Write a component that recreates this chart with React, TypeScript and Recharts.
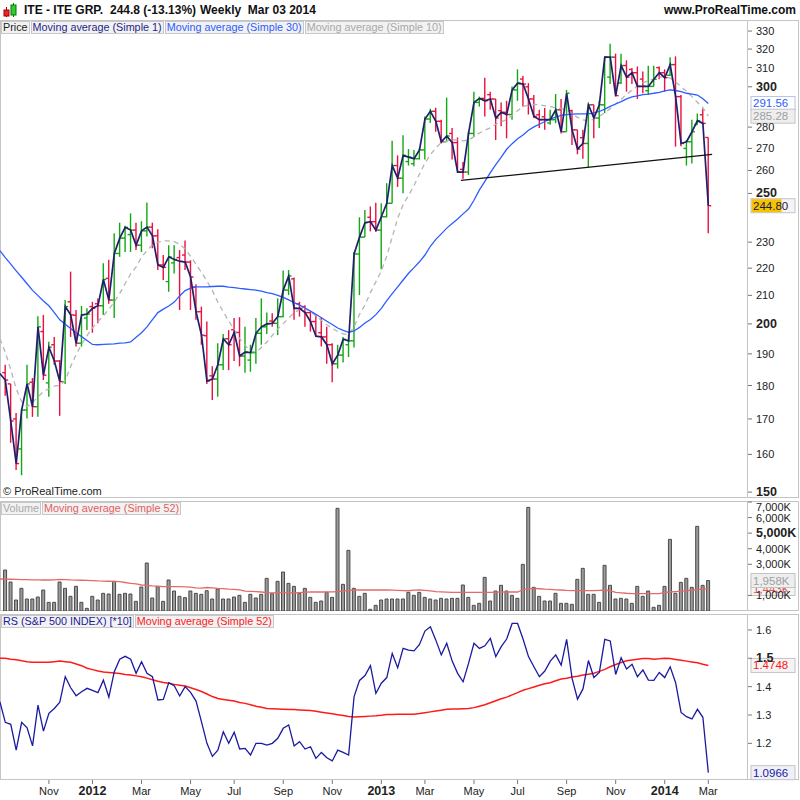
import React from "react";
import { ComposedChart, Bar, Line, XAxis, YAxis, ReferenceLine } from "recharts";

// weekly bars, Sep 12 2011 .. Mar 03 2014
const opens = [
  184, 180.5, 170, 161.5, 172.6, 181, 173.6, 197.4, 180.8, 193,
  187.7, 181.2, 207.7, 203, 193.5, 202, 206, 207, 206.3, 216.2,
  208.3, 225.6, 231.6, 233, 234.8, 228.8, 234.5, 236, 232.5, 221.2,
  215, 222, 224, 225, 222.3, 213, 204.2, 196, 183, 182,
  186.5, 195, 198, 197.1, 189.3, 188, 190.4, 196.8, 199, 201,
  200.2, 202.5, 211.9, 216, 207, 206, 203.9, 200.8, 197, 195.6,
  193, 186.8, 189.6, 193, 194.3, 225.4, 232, 240, 238.2, 234.8,
  240.2, 245.8, 262.2, 256.6, 264, 263, 265.3, 269.3, 283.9, 287.7,
  282.8, 273.1, 277, 272.7, 260.5, 259.3, 277, 292.1, 294.1, 296,
  293.8, 288, 287.2, 286.1, 298.4, 304, 300, 293.8, 286, 285,
  282, 283.6, 288.4, 277.8, 288, 278.7, 275, 272.3, 290.9, 284.4,
  290.9, 305, 315.6, 302, 311.1, 309, 307.3, 304, 298, 300.2,
  310, 307.3, 306, 311.6, 295, 270, 273.1, 281.2, 286, 275.1,
];
const highs = [
  186.5, 180.5, 171.7, 173, 186.5, 182.3, 202.6, 203.1, 194, 195.6,
  188, 208.3, 218.7, 204.8, 206.2, 205.4, 207.7, 208.9, 221.9, 223.2,
  233.5, 237.8, 236.5, 241.6, 237.8, 238.4, 246.1, 237.8, 235.1, 225,
  228.8, 228.8, 226.9, 230.7, 223, 214, 206, 200.8, 186, 193.5,
  196.6, 197.9, 202, 202.3, 199, 193, 202, 208.9, 203.9, 203.7,
  208.9, 219.1, 219.3, 216.5, 207.7, 206.5, 204.3, 203.1, 202.3, 199,
  193.5, 193, 195.6, 196.2, 226.2, 240, 243, 244.5, 246, 245.8,
  254.4, 273.5, 266.8, 276.2, 269.7, 269.3, 270.1, 285.2, 288.9, 289.4,
  283.6, 294.5, 279.6, 275.1, 263.8, 277.8, 297.5, 295, 304.7, 297.5,
  293.8, 292.1, 292.9, 300.2, 309.1, 305.6, 301.9, 295.8, 288.4, 289.3,
  288.4, 296.3, 293.8, 298.4, 288.4, 278.7, 278.7, 291.4, 290.9, 292.9,
  316, 322.9, 317.5, 317.5, 313.9, 309.8, 310.6, 307.9, 311, 311,
  310.6, 309.1, 315.6, 316, 295.8, 273.9, 283.6, 286.6, 288.9, 275.1,
];
const lows = [
  176.9, 163.2, 155.8, 154.4, 170.1, 170.6, 170.6, 181.7, 176.6, 186.5,
  170.9, 180.5, 195.6, 192.4, 192.4, 197.9, 197, 200.2, 203.1, 207,
  202, 224.3, 226.2, 226.2, 226.9, 226.2, 232.2, 227.6, 219.3, 215.6,
  211.3, 218, 204.8, 219.3, 204.8, 201.4, 193, 180.5, 175.6, 176.6,
  184.8, 184.8, 187.7, 186, 184, 184.3, 186.8, 193, 196.6, 199,
  196.2, 202.3, 210.1, 201.4, 202.5, 199, 197.4, 195.6, 192.4, 186.8,
  181, 185.3, 187.2, 189, 192.1, 210.1, 232, 234.3, 234.1, 219.6,
  240, 245.8, 252.8, 250.1, 262.2, 261.9, 264.9, 264.9, 282, 277.8,
  272.3, 273.1, 264.9, 259.1, 256.3, 258, 275.3, 290, 285.2, 288.4,
  273.9, 280.4, 274.7, 283.6, 292.9, 290.1, 286.1, 284.4, 279.6, 278.7,
  281.2, 281.9, 277, 277.8, 271.6, 267.3, 265.3, 261.4, 274.7, 279.6,
  286.8, 301.4, 295, 301.4, 297.5, 301.4, 293.8, 296.7, 295.8, 300.2,
  303.9, 297.5, 305.6, 270.8, 271, 262.2, 263.1, 281.2, 281.2, 233.5,
];
const closes = [
  181.7, 169.4, 157.5, 172.6, 180.5, 173.6, 199, 183.2, 192.2, 187.7,
  181.2, 206, 203.1, 193.5, 203.1, 203.4, 205.4, 206.3, 215.8, 208.3,
  225.6, 231.6, 235.9, 234.8, 228.8, 234.5, 236, 232.5, 221.2, 220.3,
  224.3, 223.3, 222.6, 222.3, 216.7, 204.2, 196.2, 181.4, 182, 186.5,
  194.9, 193, 197.1, 189.3, 190.6, 190.4, 196.8, 199, 200, 200.2,
  202.5, 211.9, 217.1, 205.4, 205.4, 203.9, 200.8, 195.8, 195.6, 193,
  186.8, 189.6, 194.8, 194.3, 225.4, 232, 237.8, 238.2, 234.8, 240.2,
  245.8, 262.2, 256.6, 266.8, 266, 265.3, 269.3, 283.9, 287.7, 282.8,
  273.1, 275.8, 272.7, 259.3, 259.3, 277, 292.1, 294.1, 292.9, 293.8,
  284.4, 287.2, 286.1, 298.4, 301.9, 301.4, 293.8, 285.2, 283.6, 283.6,
  283.6, 288.4, 277.8, 296.7, 278.7, 269.7, 272.3, 290.9, 284.4, 290.9,
  315.6, 315.6, 295.5, 311.1, 305, 307.3, 300.2, 300.2, 300.2, 303.9,
  307.3, 304.7, 311.6, 295, 272.3, 273.1, 277.8, 283.1, 281.8, 244.8,
];
const ma30 = [
  224.0, 221.5, 219.0, 216.6, 214.2, 211.8, 209.9, 208.0, 206.3, 203.9,
  201.4, 199.9, 198.4, 196.9, 195.7, 194.4, 193.1, 193.0, 193.1, 193.2,
  193.3, 193.5, 193.6, 193.9, 195.5, 197.0, 199.0, 201.5, 203.9, 205.1,
  206.2, 207.6, 209.8, 211.7, 212.6, 213.1, 213.1, 213.1, 213.2, 213.3,
  213.3, 213.0, 212.8, 212.5, 212.3, 212.1, 211.9, 211.5, 211.0, 210.6,
  210.0, 209.3, 208.4, 207.4, 206.5, 205.5, 204.4, 203.3, 202.1, 200.9,
  199.8, 198.6, 197.8, 197.1, 197.6, 198.8, 200.3, 201.5, 203.2, 205.4,
  208.1, 210.6, 213.1, 215.6, 218.1, 220.2, 222.4, 225.0, 228.4, 231.1,
  233.3, 235.6, 237.5, 239.3, 241.4, 243.4, 247.1, 251.5, 255.2, 259.0,
  262.6, 266.0, 269.6, 272.2, 274.5, 276.3, 278.5, 280.1, 281.4, 282.7,
  283.9, 284.8, 285.7, 286.1, 286.3, 286.4, 286.4, 286.4, 286.9, 287.6,
  288.8, 290.1, 291.3, 292.5, 293.9, 294.9, 295.4, 296.0, 296.3, 296.7,
  297.2, 297.9, 298.4, 298.1, 297.5, 296.7, 296.3, 295.8, 293.9, 291.56,
];
const ma10 = [
  190.5, 185.0, 179.0, 175.1, 173.6, 174.9, 176.5, 178.2, 179.0, 179.8,
  180.0, 181.5, 186.0, 189.8, 193.1, 196.0, 198.7, 200.8, 202.8, 205.1,
  207.6, 210.7, 214.3, 217.8, 220.5, 224.2, 226.7, 229.0, 229.9, 230.5,
  230.5, 230.2, 229.2, 227.3, 224.5, 221.5, 218.4, 215.2, 211.7, 207.6,
  204.2, 201.0, 198.0, 195.0, 192.8, 190.9, 190.6, 192.1, 193.9, 196.1,
  198.3, 200.1, 202.0, 203.9, 205.0, 205.4, 204.3, 202.7, 201.2, 199.7,
  198.5, 197.4, 196.6, 196.4, 199.0, 203.3, 206.6, 211.0, 214.9, 219.0,
  224.7, 232.0, 239.6, 245.3, 249.2, 253.4, 258.4, 263.3, 267.1, 270.2,
  272.8, 273.4, 274.0, 273.9, 273.5, 273.8, 275.5, 277.2, 278.5, 279.7,
  281.4, 282.6, 283.6, 285.8, 288.0, 290.0, 290.8, 291.1, 291.0, 290.4,
  290.0, 289.4, 289.0, 288.4, 286.5, 284.7, 283.5, 283.0, 283.9, 285.2,
  287.0, 289.0, 291.4, 293.7, 296.1, 298.3, 300.5, 302.0, 303.2, 304.2,
  304.9, 305.4, 304.5, 302.4, 300.1, 297.7, 295.0, 292.2, 289.5, 285.28,
];
// volume in thousands
const volumes = [
  2632, 1862, 706, 1455, 770, 770, 899, 1348, 556, 556,
  1862, 1455, 942, 1584, 556, 171, 942, 706, 1134, 1091,
  1905, 1070, 1134, 1091, 621, 1541, 3082, 835, 1562, 621,
  1990, 1284, 942, 856, 1284, 1134, 1070, 1305, 770, 1412,
  770, 770, 899, 1006, 556, 1070, 835, 1070, 2097, 1113,
  1905, 2504, 1776, 1584, 1134, 1455, 877, 556, 642, 1198,
  877, 6591, 1712, 3895, 1455, 942, 1134, 107, 364, 706,
  770, 770, 770, 770, 1198, 1006, 1198, 877, 770, 706,
  813, 770, 813, 813, 1669, 877, 364, 492, 2161, 642,
  1284, 1648, 1284, 1006, 813, 2996, 6655, 1519, 942, 642,
  642, 1134, 492, 492, 428, 2033, 2739, 1070, 1070, 556,
  2932, 1648, 770, 813, 770, 492, 1584, 942, 1284, 235,
  364, 1584, 4601, 1134, 1840, 2097, 1519, 5436, 1648, 1958,
];
const volMa52 = [
  2050, 2040, 2030, 2020, 2010, 2000, 1995, 1990, 1990, 2000,
  2030, 2020, 1995, 1985, 1975, 1965, 1950, 1930, 1920, 1910,
  1903, 1885, 1830, 1772, 1740, 1670, 1650, 1610, 1590, 1565,
  1562, 1562, 1562, 1545, 1530, 1490, 1470, 1510, 1490, 1455,
  1440, 1410, 1390, 1350, 1280, 1260, 1240, 1220, 1180, 1160,
  1175, 1195, 1175, 1156, 1180, 1210, 1220, 1220, 1220, 1220,
  1222, 1250, 1284, 1330, 1348, 1348, 1348, 1348, 1348, 1348,
  1348, 1340, 1330, 1305, 1300, 1340, 1348, 1320, 1290, 1245,
  1230, 1215, 1200, 1198, 1198, 1198, 1198, 1198, 1198, 1198,
  1210, 1218, 1220, 1220, 1220, 1380, 1420, 1455, 1430, 1400,
  1390, 1360, 1348, 1320, 1305, 1305, 1305, 1305, 1310, 1330,
  1348, 1300, 1198, 1170, 1140, 1120, 1113, 1113, 1113, 1113,
  1113, 1200, 1220, 1250, 1270, 1300, 1340, 1380, 1400, 1443,
];
const rs = [
  1.274, 1.267, 1.176, 1.274, 1.255, 1.191, 1.335, 1.243, 1.306, 1.323,
  1.345, 1.435, 1.396, 1.368, 1.382, 1.394, 1.387, 1.379, 1.423, 1.363,
  1.453, 1.497, 1.507, 1.497, 1.447, 1.488, 1.447, 1.435, 1.353, 1.355,
  1.414, 1.403, 1.367, 1.400, 1.380, 1.349, 1.276, 1.200, 1.154, 1.176,
  1.241, 1.200, 1.239, 1.180, 1.182, 1.159, 1.200, 1.200, 1.194, 1.200,
  1.218, 1.253, 1.265, 1.191, 1.206, 1.180, 1.188, 1.147, 1.168, 1.149,
  1.138, 1.176, 1.168, 1.159, 1.365, 1.422, 1.439, 1.474, 1.376, 1.412,
  1.432, 1.517, 1.467, 1.535, 1.529, 1.526, 1.549, 1.596, 1.611, 1.564,
  1.512, 1.553, 1.490, 1.447, 1.417, 1.482, 1.553, 1.535, 1.544, 1.570,
  1.506, 1.541, 1.568, 1.623, 1.623, 1.568, 1.506, 1.470, 1.435, 1.455,
  1.490, 1.512, 1.476, 1.567, 1.429, 1.356, 1.392, 1.492, 1.432, 1.450,
  1.567, 1.561, 1.443, 1.502, 1.462, 1.479, 1.435, 1.459, 1.423, 1.422,
  1.450, 1.432, 1.470, 1.414, 1.309, 1.294, 1.286, 1.320, 1.292, 1.0966,
];
const rsMa52 = [
  1.500, 1.497, 1.495, 1.491, 1.488, 1.486, 1.486, 1.486, 1.486, 1.488,
  1.490, 1.488, 1.486, 1.480, 1.474, 1.465, 1.460, 1.455, 1.452, 1.450,
  1.448, 1.446, 1.443, 1.441, 1.438, 1.435, 1.430, 1.424, 1.419, 1.415,
  1.412, 1.408, 1.405, 1.402, 1.396, 1.390, 1.383, 1.374, 1.365, 1.358,
  1.355, 1.352, 1.349, 1.344, 1.341, 1.336, 1.331, 1.327, 1.323, 1.322,
  1.321, 1.320, 1.319, 1.319, 1.318, 1.317, 1.316, 1.313, 1.310, 1.307,
  1.304, 1.301, 1.298, 1.295, 1.293, 1.294, 1.295, 1.296, 1.297, 1.299,
  1.302, 1.302, 1.303, 1.303, 1.303, 1.303, 1.305, 1.308, 1.311, 1.314,
  1.317, 1.320, 1.321, 1.321, 1.322, 1.323, 1.326, 1.331, 1.336, 1.343,
  1.350, 1.357, 1.363, 1.371, 1.379, 1.387, 1.393, 1.399, 1.405, 1.410,
  1.414, 1.421, 1.427, 1.430, 1.434, 1.437, 1.441, 1.444, 1.447, 1.454,
  1.461, 1.470, 1.478, 1.485, 1.491, 1.494, 1.497, 1.499, 1.499, 1.497,
  1.498, 1.500, 1.499, 1.496, 1.493, 1.490, 1.487, 1.484, 1.479, 1.4748,
];

// the week before the first full bar (Sep 05 2011), only its line values show at the left edge
const leadWeek = { close: 183.7, ma30: 226.7, ma10: 195.0, volMa: 2054, rs: 1.347, rsMa: 1.5 };

// x-axis: week index of first bar of each labelled month
const tickIdx = [8, 16, 25, 34, 42, 51, 60, 69, 77, 86, 94, 103, 112, 121, 129];
const tickText = ["Nov", "2012", "Mar", "May", "Jul", "Sep", "Nov", "2013", "Mar", "May", "Jul", "Sep", "Nov", "2014", "Mar"];

// support line drawn on the price panel
const trendIdx = [83.6, 129.7];
const trendVal = [255.6, 267.3];

const priceTicks = [150, 160, 170, 180, 190, 200, 210, 220, 230, 250, 260, 270, 280, 300, 310, 320, 330];
const volTicks = [1000, 3000, 4000, 5000, 6000, 7000];
const rsTicks = [1.2, 1.3, 1.4, 1.5, 1.6];

const rows = [
  { i: -1, ...leadWeek },
  ...closes.map((c, i) => ({
    i,
    open: opens[i],
    high: highs[i],
    low: lows[i],
    close: c,
    hl: [lows[i], highs[i]],
    ma30: ma30[i],
    ma10: ma10[i],
    vol: volumes[i],
    volMa: volMa52[i],
    rs: rs[i],
    rsMa: rsMa52[i],
  })),
];
const trend = trendIdx.map((i, k) => ({ i, v: trendVal[k] }));

const X_DOMAIN: [number, number] = [-0.9725, 136.28];
const FONT = "'Liberation Sans', Arial, sans-serif";
const UP = "#12a812";
const DOWN = "#ea1040";
const FRAME = "#c4c4c4";

function OhlcShape(props: any) {
  const { x, y, width, height, payload } = props;
  if (x == null || y == null || !payload || payload.high == null) return null;
  const cx = x + width / 2;
  const top = Math.min(y, y + height);
  const bot = Math.max(y, y + height);
  const lh = Math.log(payload.high);
  const ll = Math.log(payload.low);
  const pos = (v: number) => top + ((bot - top) * (lh - Math.log(v))) / (lh - ll || 1);
  const color = payload.close >= payload.open ? UP : DOWN;
  return (
    <g stroke={color} strokeWidth={1.4}>
      <line x1={cx} x2={cx} y1={top} y2={bot} />
      <line x1={cx - 3} x2={cx} y1={pos(payload.open)} y2={pos(payload.open)} />
      <line x1={cx} x2={cx + 3} y1={pos(payload.close)} y2={pos(payload.close)} />
    </g>
  );
}

function ValueBox(props: any) {
  const { viewBox, text, color, bg, border, hi } = props;
  if (!viewBox) return null;
  const x = viewBox.x + viewBox.width + 3;
  const y = viewBox.y;
  return (
    <g fontFamily={FONT}>
      <rect x={x} y={y - 7} width={44} height={14} fill={bg} stroke={border} />
      {hi && <rect x={x + 0.5} y={y - 6.5} width={30} height={13} fill={hi} />}
      <text x={x + 2} y={y + 4} fontSize={11.5} fill={color}>
        {text}
      </text>
    </g>
  );
}

function PriceTick({ x, y, payload }: any) {
  const bold = [150, 200, 250, 300].includes(payload.value);
  return (
    <text x={x} y={y} dy={4} textAnchor="start" fontFamily={FONT} fontSize={bold ? 12.5 : 11} fontWeight={bold ? 700 : 400} fill="#222">
      {payload.value}
    </text>
  );
}

function VolTick({ x, y, payload }: any) {
  const v = payload.value;
  const bold = v === 5000;
  const label = `${Math.floor(v / 1000)},${String(v % 1000).padStart(3, "0")}K`;
  return (
    <text x={x} y={y} dy={v === 7000 ? 9 : 4} textAnchor="start" fontFamily={FONT} fontSize={bold ? 12.5 : 11} fontWeight={bold ? 700 : 400} fill="#222">
      {label}
    </text>
  );
}

function RsTick({ x, y, payload }: any) {
  const bold = payload.value === 1.5;
  return (
    <text x={x} y={y} dy={4} textAnchor="start" fontFamily={FONT} fontSize={bold ? 12.5 : 11} fontWeight={bold ? 700 : 400} fill="#222">
      {payload.value.toFixed(1)}
    </text>
  );
}

function DateTick({ x, y, payload }: any) {
  const k = tickIdx.indexOf(payload.value);
  const t = k >= 0 ? tickText[k] : "";
  const year = /^\d{4}$/.test(t);
  return (
    <text x={x} y={y} dy={9} textAnchor="middle" fontFamily={FONT} fontSize={year ? 12.5 : 11} fontWeight={year ? 700 : 400} fill="#222">
      {t}
    </text>
  );
}

function Legend({ items, top }: { items: { text: string; color: string }[]; top: number }) {
  return (
    <div style={{ position: "absolute", left: 1, top, display: "flex", gap: 1 }}>
      {items.map((it) => (
        <div
          key={it.text}
          style={{
            border: "1px solid #c8c8c8",
            background: "#f2f2f2",
            color: it.color,
            fontSize: 10.8,
            lineHeight: "11px",
            padding: "0 1px",
            whiteSpace: "nowrap",
          }}
        >
          {it.text}
        </div>
      ))}
    </div>
  );
}

function Frame({ top, height }: { top: number; height: number }) {
  return (
    <>
      <div style={{ position: "absolute", left: 0, top, width: 799, height, border: `1px solid ${FRAME}`, boxSizing: "border-box" }} />
      <div style={{ position: "absolute", left: 747, top, width: 1, height, background: FRAME }} />
    </>
  );
}

export default function App() {
  const line = { dot: false, activeDot: false, isAnimationActive: false, type: "linear" as const };
  return (
    <div style={{ position: "absolute", left: 0, top: 0, width: 800, height: 800, background: "#fff", fontFamily: FONT, overflow: "hidden" }}>
      <Frame top={20} height={478} />
      <Frame top={501} height={110} />
      <Frame top={614} height={166} />

      {/* price */}
      <div style={{ position: "absolute", left: 0, top: 0 }}>
        <ComposedChart width={800} height={500} data={rows} margin={{ top: 20, right: 0, bottom: 2, left: 0 }}>
          <XAxis type="number" dataKey="i" domain={X_DOMAIN} allowDataOverflow hide />
          <YAxis
            orientation="right"
            scale="log"
            domain={[148.5, 336.3]}
            allowDataOverflow
            ticks={priceTicks}
            interval={0}
            width={52}
            tickSize={4}
            tickMargin={4}
            axisLine={false}
            stroke="#777"
            tick={<PriceTick />}
          />
          <Line dataKey="ma10" stroke="#b4b4b4" strokeWidth={1.3} strokeDasharray="5 4" {...line} />
          <Line dataKey="ma30" stroke="#2d5cff" strokeWidth={1.3} {...line} />
          <Bar dataKey="hl" barSize={5} shape={<OhlcShape />} isAnimationActive={false} />
          <Line dataKey="close" stroke="#1f1f6c" strokeWidth={1.7} {...line} />
          <Line data={trend} dataKey="v" stroke="#111" strokeWidth={1.2} {...line} />
          <ReferenceLine y={291.56} stroke="none" label={<ValueBox text="291.56" color="#2d5cff" bg="#fff" border="#b8c4e8" />} />
          <ReferenceLine y={285.28} stroke="none" label={<ValueBox text="285.28" color="#a0a0a0" bg="#eeeeee" border="#c4c4c4" />} />
          <ReferenceLine y={244.8} stroke="none" label={<ValueBox text="244.80" color="#1a1a40" bg="#f4f4f4" border="#c4c4c4" hi="#f5c300" />} />
        </ComposedChart>
      </div>

      {/* volume */}
      <div style={{ position: "absolute", left: 0, top: 499 }}>
        <ComposedChart width={800} height={114} data={rows} margin={{ top: 3, right: 0, bottom: 2, left: 0 }}>
          <XAxis type="number" dataKey="i" domain={X_DOMAIN} allowDataOverflow hide />
          <YAxis
            orientation="right"
            domain={[0, 7000]}
            allowDataOverflow
            ticks={volTicks}
            interval={0}
            width={52}
            tickSize={4}
            tickMargin={4}
            axisLine={false}
            stroke="#777"
            tick={<VolTick />}
          />
          <Bar dataKey="vol" barSize={3} fill="#9c9c9c" stroke="#4a4a4a" strokeWidth={1} isAnimationActive={false} />
          <Line dataKey="volMa" stroke="#e46a6a" strokeWidth={1.3} {...line} />
          <ReferenceLine y={1443} stroke="none" label={<ValueBox text="1,443K" color="#e05050" bg="#f4f4f4" border="#c4c4c4" />} />
          <ReferenceLine y={1958} stroke="none" label={<ValueBox text="1,958K" color="#a0a0a0" bg="#eeeeee" border="#c4c4c4" />} />
        </ComposedChart>
      </div>

      {/* relative strength */}
      <div style={{ position: "absolute", left: 0, top: 612 }}>
        <ComposedChart width={800} height={188} data={rows} margin={{ top: 3, right: 0, bottom: 0, left: 0 }}>
          <XAxis
            type="number"
            dataKey="i"
            domain={X_DOMAIN}
            allowDataOverflow
            ticks={tickIdx}
            interval={0}
            height={20}
            tickSize={4}
            tickMargin={2}
            axisLine={false}
            stroke="#777"
            tick={<DateTick />}
          />
          <YAxis
            orientation="right"
            domain={[1.0707, 1.6527]}
            allowDataOverflow
            ticks={rsTicks}
            interval={0}
            width={52}
            tickSize={4}
            tickMargin={4}
            axisLine={false}
            stroke="#777"
            tick={<RsTick />}
          />
          <Line dataKey="rsMa" stroke="#ff1a1a" strokeWidth={1.5} {...line} />
          <Line dataKey="rs" stroke="#1a1aa0" strokeWidth={1.3} {...line} />
          <ReferenceLine y={1.4748} stroke="none" label={<ValueBox text="1.4748" color="#ff1a1a" bg="#f4f4f4" border="#c4c4c4" />} />
          <ReferenceLine y={1.0966} stroke="none" label={<ValueBox text="1.0966" color="#1a1aa0" bg="#f0f0f8" border="#c4c4c4" />} />
        </ComposedChart>
      </div>

      {/* header */}
      <svg style={{ position: "absolute", left: 2, top: 2 }} width={16} height={16}>
        <line x1={4.5} x2={4.5} y1={5} y2={15} stroke="#a00" />
        <rect x={2} y={8} width={5} height={6} fill="#e23" stroke="#a00" />
        <line x1={11.5} x2={11.5} y1={1} y2={15} stroke="#070" />
        <rect x={9} y={3} width={5} height={10} fill="#3c3" stroke="#070" />
      </svg>
      <div style={{ position: "absolute", top: 2, left: 0, width: 800, height: 16, fontSize: 12, fontWeight: 700, color: "#111", whiteSpace: "pre", lineHeight: "16px" }}>
        <span style={{ position: "absolute", left: 24 }}>ITE - ITE GRP.</span>
        <span style={{ position: "absolute", left: 110 }}>244.8 (-13.13%)</span>
        <span style={{ position: "absolute", left: 200 }}>Weekly  Mar 03 2014</span>
        <span style={{ position: "absolute", right: 4 }}>www.ProRealTime.com</span>
      </div>

      <Legend
        top={21}
        items={[
          { text: "Price", color: "#222" },
          { text: "Moving average (Simple 1)", color: "#1f1f8c" },
          { text: "Moving average (Simple 30)", color: "#2d5cff" },
          { text: "Moving average (Simple 10)", color: "#a8a8a8" },
        ]}
      />
      <Legend
        top={502}
        items={[
          { text: "Volume", color: "#a8a8a8" },
          { text: "Moving average (Simple 52)", color: "#e06060" },
        ]}
      />
      <Legend
        top={615}
        items={[
          { text: "RS (S&P 500 INDEX) [*10]", color: "#1a1a9a" },
          { text: "Moving average (Simple 52)", color: "#ff1a1a" },
        ]}
      />
      <div style={{ position: "absolute", left: 3, top: 485, fontSize: 11, color: "#222" }}>© ProRealTime.com</div>
    </div>
  );
}
